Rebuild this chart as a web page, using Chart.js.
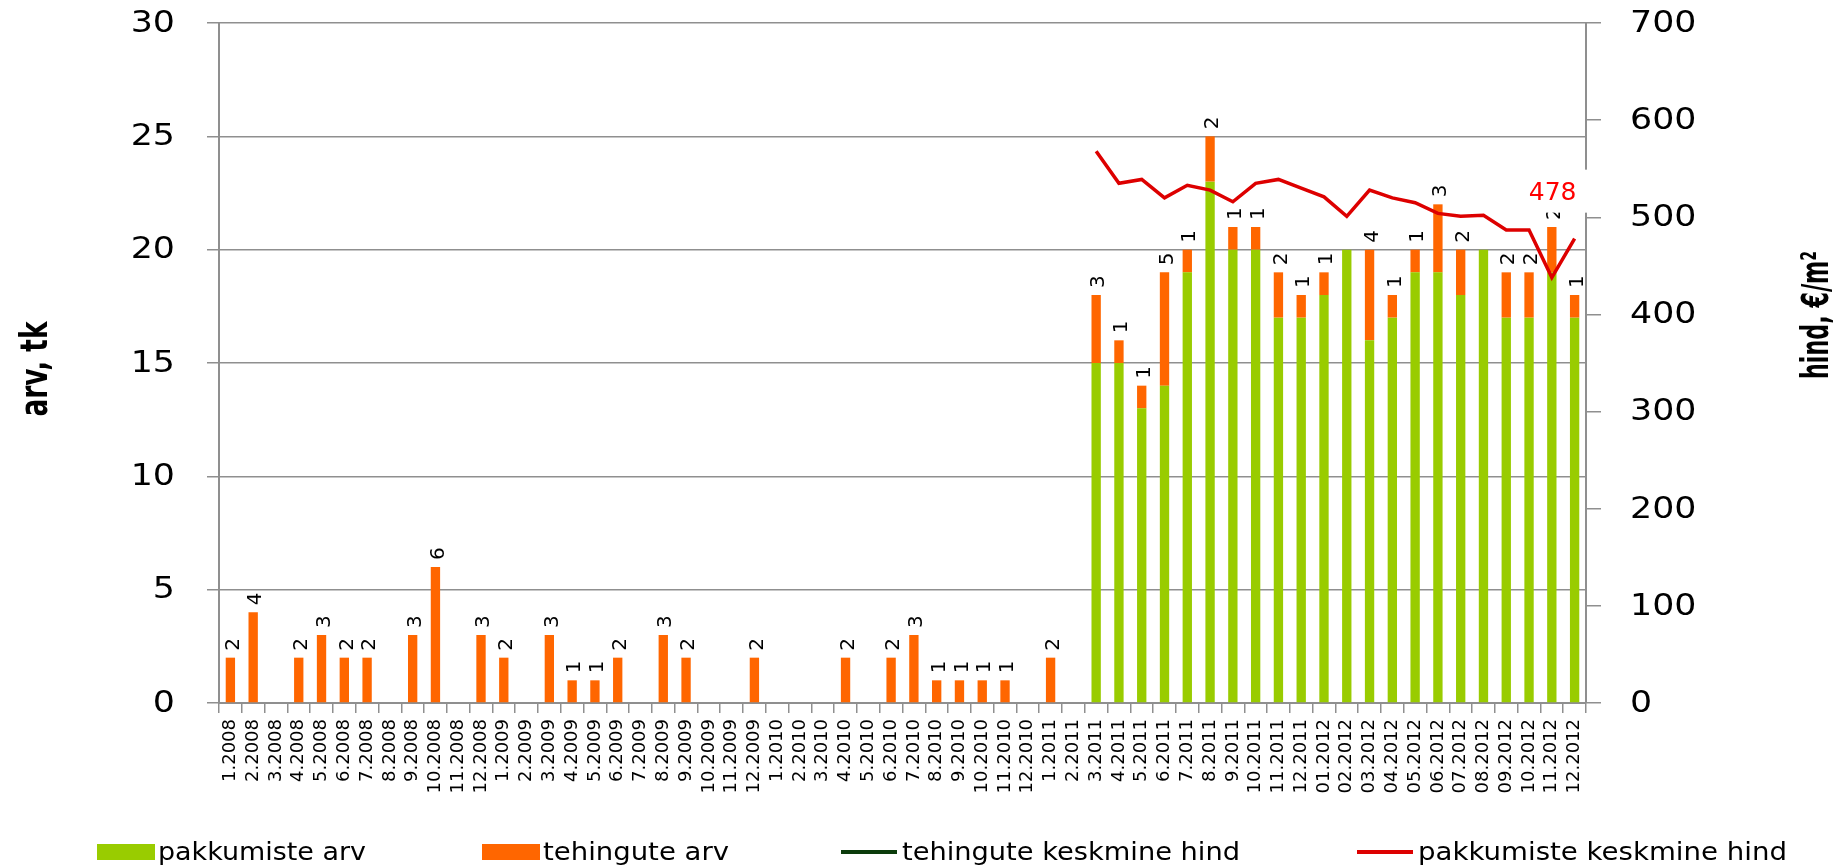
<!DOCTYPE html>
<html lang="et">
<head>
<meta charset="utf-8">
<title>pakkumiste ja tehingute arv</title>
<script src="https://cdn.jsdelivr.net/npm/chart.js@4.4.1/dist/chart.umd.min.js"></script>
<style>
  html, body { margin: 0; padding: 0; background: #fff; }
  canvas { display: block; }
</style>
</head>
<body>
<canvas id="offerChart" width="1845" height="868"></canvas>
<script>
// Kuud 2008-2012
const months = [
  '1.2008', '2.2008', '3.2008', '4.2008', '5.2008', '6.2008', '7.2008', '8.2008', '9.2008', '10.2008', '11.2008', '12.2008',
  '1.2009', '2.2009', '3.2009', '4.2009', '5.2009', '6.2009', '7.2009', '8.2009', '9.2009', '10.2009', '11.2009', '12.2009',
  '1.2010', '2.2010', '3.2010', '4.2010', '5.2010', '6.2010', '7.2010', '8.2010', '9.2010', '10.2010', '11.2010', '12.2010',
  '1.2011', '2.2011', '3.2011', '4.2011', '5.2011', '6.2011', '7.2011', '8.2011', '9.2011', '10.2011', '11.2011', '12.2011',
  '01.2012', '02.2012', '03.2012', '04.2012', '05.2012', '06.2012', '07.2012', '08.2012', '09.2012', '10.2012', '11.2012', '12.2012'
];

// pakkumiste arv (tk)
const offerCount = [
  null, null, null, null, null, null, null, null, null, null, null, null,
  null, null, null, null, null, null, null, null, null, null, null, null,
  null, null, null, null, null, null, null, null, null, null, null, null,
  null, null, 15, 15, 13, 14, 19, 23, 20, 20, 17, 17,
  18, 20, 16, 17, 19, 19, 18, 20, 17, 17, 19, 17
];

// tehingute arv (tk)
const dealCount = [
  2, 4, 0, 2, 3, 2, 2, 0, 3, 6, 0, 3,
  2, 0, 3, 1, 1, 2, 0, 3, 2, 0, 0, 2,
  0, 0, 0, 2, 0, 2, 3, 1, 1, 1, 1, 0,
  2, 0, 3, 1, 1, 5, 1, 2, 1, 1, 2, 1,
  1, 0, 4, 1, 1, 3, 2, 0, 2, 2, 2, 1
];

// tehingute keskmine hind (€/m²) - andmed puuduvad
const dealPrice = months.map(() => null);

// pakkumiste keskmine hind (€/m²)
const offerPrice = [
  null, null, null, null, null, null, null, null, null, null, null, null,
  null, null, null, null, null, null, null, null, null, null, null, null,
  null, null, null, null, null, null, null, null, null, null, null, null,
  null, null, 568, 535, 539, 520, 533, 528, 516, 535, 539, 530,
  521, 501, 528, 520, 515, 504, 501, 502, 487, 487, 438, 478
];

const countTicks = [0, 5, 10, 15, 20, 25, 30];
const priceTicks = [0, 100, 200, 300, 400, 500, 600, 700];

const GREEN = '#99cc00';
const ORANGE = '#ff6600';
const DARK_GREEN = '#0b3b0b';
const RED = '#dd0000';
const AXIS_GREY = '#8f8f8f';
const FONT = "'DejaVu Sans', sans-serif";
const TITLE_FONT = "bold 37px 'DejaVu Sans Condensed', 'Liberation Sans Narrow', 'DejaVu Sans', sans-serif";

// text squeezed or widened along its own direction to a set length
function fillFitted(ctx, text, x, y, length) {
  const w = ctx.measureText(text).width;
  ctx.save();
  ctx.translate(x, y);
  ctx.scale(length / w, 1);
  ctx.fillText(text, 0, 0);
  ctx.restore();
}

// wide tick numbers on both value axes
const tickPlugin = {
  id: 'wideTicks',
  afterDraw(chart) {
    const ctx = chart.ctx;
    const stretch = 1.16;
    ctx.save();
    ctx.fillStyle = '#000';
    ctx.font = '30px ' + FONT;
    ctx.textBaseline = 'middle';
    const left = chart.scales.y;
    ctx.textAlign = 'right';
    countTicks.forEach(v => {
      ctx.save();
      ctx.translate(left.right - 12 - 32, left.getPixelForValue(v) + 1);
      ctx.scale(stretch, 1);
      ctx.fillText(String(v), 0, 0);
      ctx.restore();
    });
    const right = chart.scales.y1;
    ctx.textAlign = 'left';
    priceTicks.forEach(v => {
      ctx.save();
      ctx.translate(right.left + 15 + 29, right.getPixelForValue(v) + 1);
      ctx.scale(stretch, 1);
      ctx.fillText(String(v), 0, 0);
      ctx.restore();
    });
    ctx.restore();
  }
};

// rotated deal counts above each stacked bar, and the last price value
const labelsPlugin = {
  id: 'valueLabels',
  afterDatasetsDraw(chart) {
    const ctx = chart.ctx;
    const dealMeta = chart.getDatasetMeta(1);
    ctx.save();
    ctx.fillStyle = '#000';
    ctx.font = '20px ' + FONT;
    ctx.textAlign = 'left';
    ctx.textBaseline = 'middle';
    dealCount.forEach((v, i) => {
      if (!v) return;
      const bar = dealMeta.data[i];
      ctx.save();
      ctx.translate(bar.x + 3, bar.y - 7);
      ctx.rotate(-Math.PI / 2);
      ctx.fillText(String(v), 0, 0);
      ctx.restore();
    });

    // last point of the offer price line
    const priceMeta = chart.getDatasetMeta(3);
    let last = offerPrice.length - 1;
    while (last >= 0 && offerPrice[last] == null) last--;
    const pt = priceMeta.data[last];
    ctx.fillStyle = '#fff';
    ctx.fillRect(pt.x - 56, pt.y - 69, 72, 43);
    ctx.fillStyle = '#ff0000';
    ctx.font = '25px ' + FONT;
    ctx.textAlign = 'center';
    ctx.fillText(String(offerPrice[last]), pt.x - 22, pt.y - 45);
    ctx.restore();
  }
};

// axis titles and legend along the bottom
const framePlugin = {
  id: 'frame',
  afterDraw(chart) {
    const ctx = chart.ctx;
    ctx.save();
    ctx.fillStyle = '#000';
    ctx.font = TITLE_FONT;
    ctx.textAlign = 'center';
    ctx.textBaseline = 'middle';
    ctx.save();
    ctx.translate(37, 369);
    ctx.rotate(-Math.PI / 2);
    fillFitted(ctx, 'arv, tk', 0, 0, 95);
    ctx.restore();
    ctx.save();
    ctx.translate(1818, 315);
    ctx.rotate(-Math.PI / 2);
    fillFitted(ctx, 'hind, €/m²', 0, 0, 128);
    ctx.restore();

    const legendX = [97, 482, 841, 1357];
    const legendTextWidth = [208, 186, 338, 369];
    const sets = chart.data.datasets;
    ctx.font = '24px ' + FONT;
    ctx.textAlign = 'left';
    ctx.textBaseline = 'alphabetic';
    sets.forEach((ds, i) => {
      const x = legendX[i];
      if (ds.type === 'line') {
        ctx.fillStyle = ds.borderColor;
        ctx.fillRect(x, 850, 56, 4);
      } else {
        ctx.fillStyle = ds.backgroundColor;
        ctx.fillRect(x, 844, 58, 16);
      }
      ctx.fillStyle = '#000';
      fillFitted(ctx, ds.label, x + 61, 860, legendTextWidth[i]);
    });
    ctx.restore();
  }
};

new Chart(document.getElementById('offerChart'), {
  type: 'bar',
  data: {
    labels: months,
    datasets: [
      {
        type: 'bar',
        label: 'pakkumiste arv',
        data: offerCount,
        backgroundColor: GREEN,
        stack: 'arv',
        yAxisID: 'y',
        order: 2,
        barPercentage: 0.41,
        categoryPercentage: 1
      },
      {
        type: 'bar',
        label: 'tehingute arv',
        data: dealCount,
        backgroundColor: ORANGE,
        stack: 'arv',
        yAxisID: 'y',
        order: 2,
        barPercentage: 0.41,
        categoryPercentage: 1
      },
      {
        type: 'line',
        label: 'tehingute keskmine hind',
        data: dealPrice,
        borderColor: DARK_GREEN,
        borderWidth: 3.5,
        pointRadius: 0,
        yAxisID: 'y1',
        order: 1
      },
      {
        type: 'line',
        label: 'pakkumiste keskmine hind',
        data: offerPrice,
        borderColor: RED,
        borderWidth: 3.5,
        pointRadius: 0,
        tension: 0,
        yAxisID: 'y1',
        order: 1
      }
    ]
  },
  options: {
    responsive: false,
    animation: false,
    layout: { padding: { top: 23, left: 0, right: 0, bottom: 0 } },
    plugins: {
      legend: { display: false },
      tooltip: { enabled: false }
    },
    scales: {
      x: {
        stacked: true,
        grid: { offset: true, drawOnChartArea: false, color: AXIS_GREY, lineWidth: 1.5, tickLength: 10 },
        border: { color: AXIS_GREY, width: 2 },
        ticks: {
          autoSkip: false,
          minRotation: 90,
          maxRotation: 90,
          padding: 6,
          color: '#000',
          font: { family: FONT, size: 18 }
        },
        afterFit: (s) => { s.height = 165; }
      },
      y: {
        stacked: true,
        position: 'left',
        min: countTicks[0],
        max: countTicks[countTicks.length - 1],
        afterBuildTicks: (s) => { s.ticks = countTicks.map(v => ({ value: v })); },
        grid: { color: AXIS_GREY, lineWidth: 1.5, tickLength: 12 },
        border: { color: AXIS_GREY, width: 2 },
        ticks: { display: false },
        afterFit: (s) => { s.width = 219; s.paddingTop = 0; s.paddingBottom = 0; }
      },
      y1: {
        stacked: false,
        position: 'right',
        min: priceTicks[0],
        max: priceTicks[priceTicks.length - 1],
        afterBuildTicks: (s) => { s.ticks = priceTicks.map(v => ({ value: v })); },
        grid: { drawOnChartArea: false, color: AXIS_GREY, lineWidth: 1.5, tickLength: 15 },
        border: { color: AXIS_GREY, width: 2 },
        ticks: { display: false },
        afterFit: (s) => { s.width = 259; s.paddingTop = 0; s.paddingBottom = 0; }
      }
    }
  },
  plugins: [tickPlugin, labelsPlugin, framePlugin]
});
</script>
</body>
</html>
